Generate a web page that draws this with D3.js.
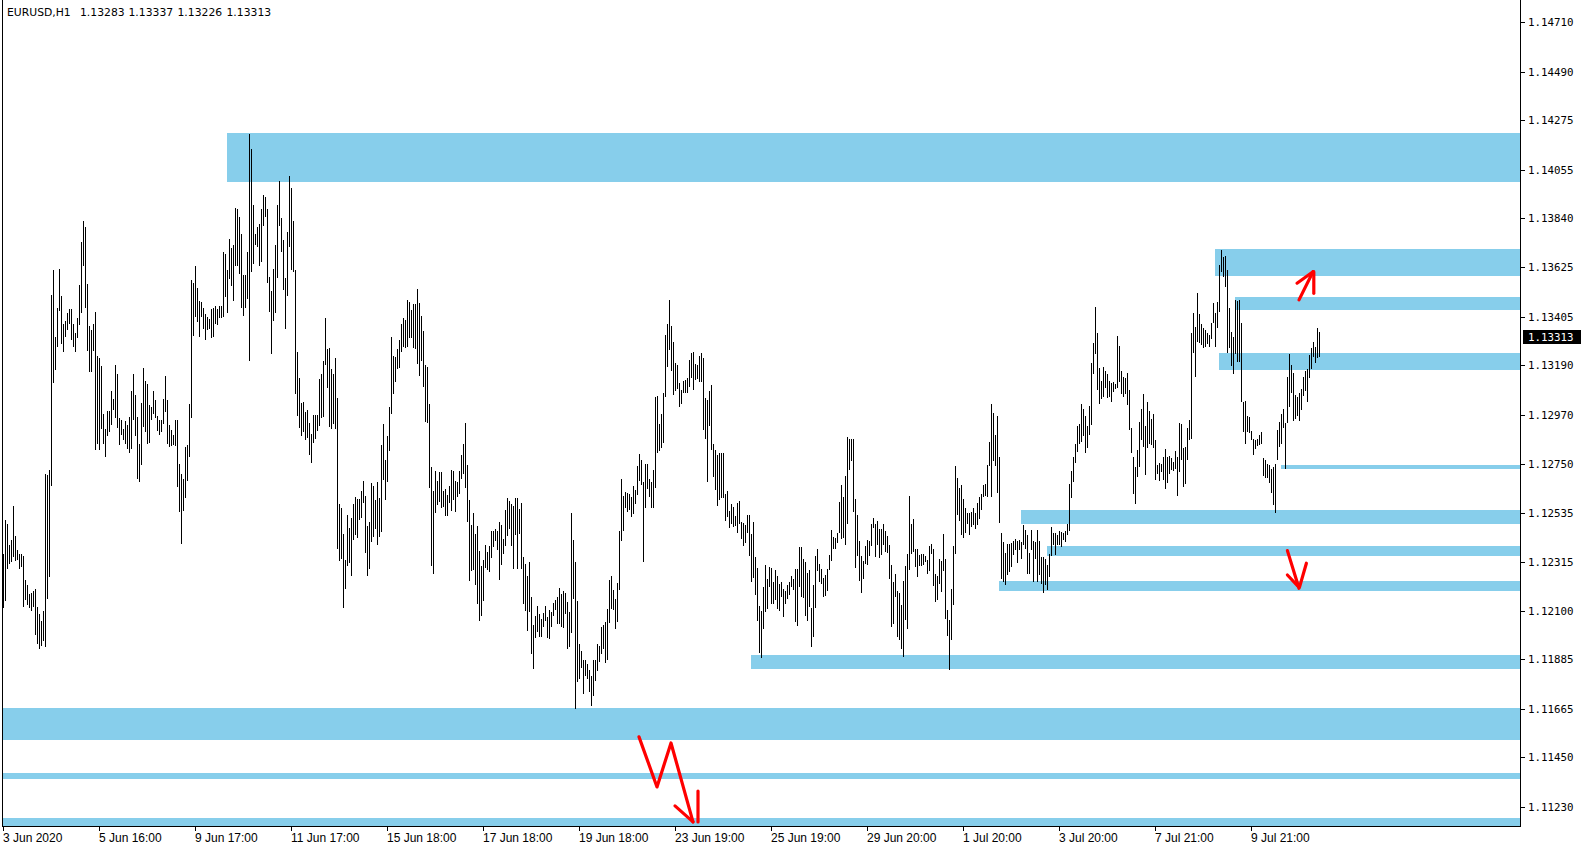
<!DOCTYPE html>
<html><head><meta charset="utf-8">
<script src="https://cdn.jsdelivr.net/npm/d3@7/dist/d3.min.js"></script>
<style>html,body{margin:0;padding:0;background:#fff;overflow:hidden}</style>
</head><body>
<svg id="c" width="1585" height="850"></svg>
<script>
// ---------------- DATA ----------------
const symbol = "EURUSD,H1";
const lastBarOHLC = [1.13283, 1.13337, 1.13226, 1.13313];

const high = [
1.12353,1.12504,1.12483,1.12390,1.12415,1.12563,1.12430,1.12371,1.12353,1.12353,
1.12341,1.12235,1.12213,1.12176,1.12179,1.12190,1.12198,1.12116,1.12084,1.12054,
1.12099,1.12708,1.12701,1.12726,1.13500,1.13611,1.13315,1.13445,1.13614,1.13497,
1.13371,1.13386,1.13423,1.13438,1.13437,1.13374,1.13330,1.13397,1.13545,1.13734,
1.13829,1.13801,1.13549,1.13363,1.13345,1.13370,1.13425,1.13229,1.13223,1.13185,
1.12972,1.12908,1.12987,1.12987,1.13074,1.13038,1.13192,1.13152,1.12953,1.12948,
1.12908,1.12942,1.12923,1.12960,1.13074,1.13152,1.13056,1.12960,1.12842,1.13022,
1.13175,1.13120,1.13104,1.13012,1.13004,1.13074,1.13034,1.12963,1.12945,1.12948,
1.13041,1.13141,1.13034,1.12923,1.12904,1.12879,1.12948,1.12948,1.12750,1.12708,
1.12686,1.12827,1.12834,1.13016,1.13567,1.13555,1.13629,1.13530,1.13474,1.13471,
1.13441,1.13416,1.13404,1.13394,1.13438,1.13441,1.13451,1.13437,1.13451,
1.13451,1.13693,1.13682,1.13611,1.13749,1.13710,1.13722,1.13885,1.13882,1.13847,
1.13771,1.13589,1.13589,1.13690,1.14215,1.14148,1.13900,1.13771,1.13802,1.13815,
1.13882,1.13944,1.13935,1.13882,1.13580,1.13518,1.13616,1.13722,1.13900,1.14006,
1.13844,1.13744,1.13574,1.13781,1.14029,1.13977,1.13829,1.13611,1.13249,1.13133,
1.13021,1.13027,1.12982,1.12990,1.12933,1.12883,1.12967,1.12967,1.12967,1.13127,
1.13149,1.13207,1.13400,1.13260,1.13266,1.13172,1.13152,1.13222,1.13044,1.12572,
1.12556,1.12441,1.12324,1.12523,1.12467,1.12512,1.12572,1.12605,1.12597,1.12594,
1.12630,1.12674,1.12609,1.12476,1.12494,1.12667,1.12654,1.12590,1.12671,1.12600,
1.12834,1.12927,1.12768,1.12874,1.13004,1.13315,1.13231,1.13226,1.13263,1.13300,
1.13371,1.13397,1.13389,1.13478,1.13471,1.13434,1.13459,1.13459,1.13527,1.13463,
1.13407,1.13340,1.13189,1.13182,1.13019,1.12738,1.12630,1.12719,1.12674,1.12716,
1.12716,1.12632,1.12642,1.12612,1.12652,1.12723,1.12720,1.12676,1.12672,1.12719,
1.12790,1.12842,1.12931,1.12746,1.12590,1.12479,1.12535,1.12439,1.12475,1.12365,
1.12299,1.12324,1.12390,1.12361,1.12386,1.12454,1.12454,1.12464,1.12454,1.12494,
1.12482,1.12420,1.12546,1.12602,1.12587,1.12575,1.12565,1.12602,1.12602,1.12550,
1.12578,1.12339,1.12306,1.12254,1.12316,1.12161,1.12035,1.12075,1.12120,1.12087,
1.12062,1.12090,1.12120,1.12072,1.12102,1.12097,1.12134,1.12149,1.12161,1.12202,
1.12176,1.12186,1.12179,1.12139,1.12097,1.12534,1.12413,1.12316,1.12142,1.11951,
1.11924,1.11883,1.11880,1.11865,1.11838,1.11813,1.11880,1.11880,1.11954,1.11942,
1.12028,1.12035,1.12050,1.12109,1.12235,1.12253,1.12194,1.12154,1.12223,1.12454,
1.12686,1.12608,1.12627,1.12624,1.12620,1.12605,1.12652,1.12635,1.12741,1.12797,
1.12771,1.12672,1.12749,1.12750,1.12686,1.12672,1.12726,1.13049,1.13052,1.12928,
1.12974,1.13067,1.13323,1.13372,1.13478,1.13365,1.13293,1.13199,1.13189,1.13109,
1.13079,1.13120,1.13124,1.13132,1.13211,1.13242,1.13249,1.13195,1.13189,1.13230,
1.13245,1.13222,1.13044,1.13034,1.13075,1.13102,1.12838,1.12813,1.12789,1.12801,
1.12798,1.12798,1.12620,1.12632,1.12542,1.12572,1.12560,1.12522,1.12578,1.12587,
1.12492,1.12488,1.12482,1.12527,1.12527,1.12442,1.12492,1.12339,1.12289,1.12123,
1.12101,1.12206,1.12304,1.12241,1.12296,1.12292,1.12226,1.12281,1.12256,1.12217,
1.12229,1.12196,1.12187,1.12214,1.12226,1.12254,1.12241,1.12286,1.12286,1.12384,
1.12384,1.12331,1.12316,1.12266,1.12281,1.12113,1.12214,1.12342,1.12372,1.12307,
1.12286,1.12244,1.12259,1.12286,1.12349,1.12457,1.12427,1.12424,1.12447,1.12582,
1.12658,1.12605,1.12698,1.12873,1.12861,1.12861,1.12861,1.12594,1.12527,1.12409,
1.12345,1.12319,1.12387,1.12412,1.12409,1.12485,1.12512,1.12485,1.12500,
1.12461,1.12465,1.12483,1.12455,1.12432,1.12391,1.12302,1.12228,1.12265,1.12187,
1.12179,1.12125,1.12231,1.12299,1.12350,1.12609,1.12487,1.12506,1.12376,1.12373,
1.12347,1.12350,1.12354,1.12342,1.12324,1.12387,1.12398,1.12376,1.12262,1.12255,
1.12332,1.12320,1.12440,1.12329,1.12102,1.12058,1.12199,1.12387,1.12742,1.12690,
1.12643,1.12657,1.12594,1.12558,1.12532,1.12532,1.12540,1.12555,1.12532,1.12576,1.12603,1.12616,
1.12657,1.12662,1.12746,1.12850,1.13017,1.12979,1.12879,1.12964,1.12783,1.12443,
1.12406,1.12357,1.12398,1.12398,1.12403,1.12409,1.12420,1.12409,
1.12413,1.12406,1.12480,1.12458,1.12438,1.12358,1.12458,1.12409,1.12406,1.12458,
1.12409,1.12339,1.12339,1.12332,1.12302,1.12350,1.12472,1.12447,1.12443,1.12438,
1.12453,1.12450,1.12447,1.12453,1.12484,1.12662,1.12720,1.12783,1.12842,1.12921,
1.12928,1.13017,1.12995,1.12964,1.12919,1.13008,1.13198,1.13286,1.13446,1.13331,
1.13175,
1.13120,1.13183,1.13163,1.13150,1.13119,1.13112,1.13116,1.13106,1.13319,1.13274,
1.13165,1.13138,1.13131,1.13153,1.13079,1.12909,1.12780,1.12736,1.12813,1.12938,
1.12993,1.13061,1.12919,1.13024,1.12987,1.12949,1.12972,1.12857,1.12746,1.12756,
1.12753,1.12783,1.12817,1.12783,1.12786,1.12779,1.12761,1.12810,1.12780,1.12934,
1.12928,1.12824,1.12827,1.12909,1.12946,1.13331,1.13419,1.13357,1.13511,1.13416,
1.13372,1.13353,1.13345,1.13331,1.13323,1.13378,1.13464,1.13419,1.13471,1.13634,
1.13701,1.13671,1.13674,1.13612,1.13442,1.13338,1.13316,1.13479,1.13474,1.13479,
1.13378,1.13027,1.13030,1.12964,1.12961,1.12898,1.12860,1.12857,1.12864,1.12879,
1.12894,1.12776,1.12771,1.12750,1.12746,1.12731,1.12739,1.12753,1.12901,1.12938,
1.12972,1.12993,1.12931,1.13138,1.13237,1.13190,1.13156,1.13057,1.13049,1.13067,
1.13082,1.13135,1.13165,1.13171,1.13234,1.13267,1.13291,1.13271,1.13353,1.13337
];

const low = [
1.12113,1.12143,1.12284,1.12306,1.12316,1.12338,1.12321,1.12324,1.12287,1.12294,
1.12119,1.12146,1.12128,1.12113,1.12099,1.12119,1.11991,1.11954,1.11931,1.11946,
1.11965,1.11939,1.12153,1.12250,1.12654,1.13111,1.13167,1.13271,1.13431,1.13283,
1.13249,1.13315,1.13345,1.13371,1.13300,1.13271,1.13249,1.13308,1.13367,1.13423,
1.13630,1.13441,1.13253,1.13160,1.13160,1.13253,1.12815,1.12839,1.12815,1.12908,
1.12842,1.12782,1.12874,1.12893,1.12923,1.12990,1.12953,1.12913,1.12834,1.12879,
1.12856,1.12842,1.12819,1.12800,1.12819,1.12948,1.12874,1.12686,1.12671,1.12745,
1.12916,1.12893,1.12839,1.12845,1.12945,1.12972,1.12957,1.12898,1.12879,1.12893,
1.12930,1.12982,1.12842,1.12827,1.12830,1.12834,1.12831,1.12649,1.12538,1.12398,
1.12543,1.12602,1.12676,1.12782,1.12956,1.13318,1.13404,1.13382,1.13315,1.13401,
1.13349,1.13300,1.13345,1.13348,1.13308,1.13315,1.13371,1.13367,1.13397,
1.13397,1.13404,1.13493,1.13422,1.13571,1.13542,1.13475,1.13630,1.13630,1.13592,
1.13444,1.13408,1.13444,1.13485,1.13209,1.13604,1.13639,1.13722,1.13715,1.13630,
1.13648,1.13808,1.13848,1.13556,1.13426,1.13240,1.13386,1.13422,1.13577,1.13808,
1.13693,1.13524,1.13351,1.13497,1.13715,1.13611,1.13604,1.13062,1.12964,1.12911,
1.12876,1.12893,1.12859,1.12867,1.12790,1.12756,1.12846,1.12864,1.12898,1.12920,
1.12957,1.12960,1.13192,1.13089,1.12916,1.12905,1.12930,1.12905,1.12375,1.12321,
1.12331,1.12112,1.12198,1.12298,1.12313,1.12254,1.12412,1.12438,1.12423,1.12501,
1.12512,1.12578,1.12356,1.12254,1.12287,1.12405,1.12427,1.12461,1.12393,1.12427,
1.12449,1.12679,1.12590,1.12671,1.12808,1.12973,1.13062,1.13115,1.13172,1.13178,
1.13249,1.13271,1.13266,1.13271,1.13308,1.13311,1.13266,1.13263,1.13194,1.13142,
1.13207,1.13093,1.12938,1.12933,1.12645,1.12301,1.12264,1.12535,1.12571,1.12583,
1.12556,1.12561,1.12521,1.12521,1.12578,1.12543,1.12593,1.12538,1.12605,1.12620,
1.12683,1.12706,1.12646,1.12494,1.12232,1.12276,1.12282,1.12213,1.12131,1.12054,
1.12077,1.12143,1.12291,1.12282,1.12272,1.12336,1.12383,1.12410,1.12371,1.12238,
1.12302,1.12350,1.12387,1.12430,1.12464,1.12387,1.12287,1.12435,1.12284,1.12442,
1.12287,1.12131,1.12099,1.12010,1.12094,1.11909,1.11843,1.11979,1.12006,1.11983,
1.11983,1.12028,1.12057,1.11980,1.11976,1.12028,1.12075,1.12102,1.12043,1.12040,
1.12028,1.12025,1.12087,1.11932,1.11939,1.12001,1.12154,1.11665,1.11784,1.11798,
1.11847,1.11732,1.11813,1.11798,1.11739,1.11676,1.11724,1.11791,1.11835,1.11872,
1.11909,1.11932,1.11868,1.11880,1.12046,1.12109,1.12102,1.12020,1.12050,1.12194,
1.12410,1.12454,1.12558,1.12538,1.12549,1.12516,1.12528,1.12572,1.12612,1.12676,
1.12657,1.12316,1.12556,1.12639,1.12605,1.12558,1.12556,1.12646,1.12800,1.12809,
1.12823,1.12846,1.13049,1.13181,1.13255,1.13162,1.13059,1.13075,1.13084,1.13004,
1.13019,1.13064,1.13068,1.13064,1.13094,1.13132,1.13079,1.13124,1.13129,1.13117,
1.13114,1.12903,1.12861,1.12673,1.12921,1.12813,1.12695,1.12638,1.12563,1.12590,
1.12602,1.12602,1.12500,1.12518,1.12469,1.12485,1.12473,1.12477,1.12444,1.12485,
1.12417,1.12387,1.12402,1.12447,1.12342,1.12229,1.12244,1.12168,1.12053,1.11913,
1.11890,1.12018,1.12093,1.12108,1.12206,1.12131,1.12131,1.12146,1.12108,1.12101,
1.12161,1.12071,1.12131,1.12153,1.12168,1.12206,1.12191,1.12051,1.12033,1.12206,
1.12161,1.12156,1.12075,1.12056,1.12116,1.11940,1.11985,1.12113,1.12277,1.12226,
1.12221,1.12161,1.12165,1.12187,1.12281,1.12319,1.12372,1.12372,1.12402,1.12447,
1.12417,1.12424,1.12394,1.12485,1.12725,1.12763,1.12537,1.12292,1.12342,1.12233,
1.12181,1.12241,1.12307,1.12304,1.12342,1.12387,1.12469,1.12337,1.12390,
1.12335,1.12347,1.12391,1.12361,1.12358,1.12239,1.12028,1.12043,1.12162,1.11984,
1.11972,1.11929,1.11895,1.12058,1.12021,1.12280,1.12350,1.12361,1.12295,1.12250,
1.12299,1.12299,1.12305,1.12317,1.12265,1.12276,1.12350,1.12210,1.12139,1.12147,
1.12221,1.12184,1.12276,1.12062,1.11988,1.11836,1.11969,1.12125,1.12354,1.12524,
1.12499,1.12435,1.12421,1.12443,1.12483,1.12438,1.12470,1.12480,1.12465,1.12480,1.12506,1.12546,
1.12606,1.12609,1.12606,1.12743,1.12606,1.12764,1.12743,1.12623,1.12490,1.12239,
1.12228,1.12216,1.12261,1.12273,1.12295,1.12347,1.12370,1.12314,
1.12369,1.12332,1.12391,1.12376,1.12265,1.12265,1.12369,1.12228,1.12332,1.12228,
1.12261,1.12221,1.12179,1.12213,1.12191,1.12250,1.12344,1.12394,1.12347,1.12391,
1.12394,1.12384,1.12413,1.12406,1.12435,1.12453,1.12601,1.12672,1.12754,1.12805,
1.12842,1.12850,1.12876,1.12802,1.12820,1.12879,1.12924,1.13149,1.13239,1.13079,
1.13016,
1.13038,1.13049,1.13086,1.13046,1.13049,1.13027,1.13072,1.13082,1.13086,1.13116,
1.13061,1.13049,1.13061,1.13012,1.12901,1.12801,1.12620,1.12573,1.12694,1.12739,
1.12857,1.12827,1.12702,1.12820,1.12842,1.12835,1.12820,1.12682,1.12709,1.12676,
1.12716,1.12682,1.12639,1.12668,1.12709,1.12724,1.12721,1.12728,1.12608,1.12716,
1.12768,1.12650,1.12662,1.12768,1.12857,1.12864,1.13242,1.13138,1.13294,1.13289,
1.13279,1.13264,1.13271,1.13282,1.13268,1.13305,1.13375,1.13268,1.13356,1.13427,
1.13604,1.13582,1.13538,1.13245,1.13264,1.13186,1.13150,1.13239,1.13205,1.13205,
1.13027,1.12891,1.12839,1.12894,1.12890,1.12857,1.12790,1.12817,1.12830,1.12835,
1.12839,1.12697,1.12687,1.12691,1.12665,1.12623,1.12568,1.12534,1.12768,1.12827,
1.12842,1.12909,1.12727,1.12931,1.13005,1.13064,1.12943,1.12949,1.12964,1.12943,
1.12990,1.13052,1.13076,1.13027,1.13131,1.13172,1.13227,1.13200,1.13220,1.13226
];

const timeLabels = ["3 Jun 2020","5 Jun 16:00","9 Jun 17:00","11 Jun 17:00","15 Jun 18:00",
  "17 Jun 18:00","19 Jun 18:00","23 Jun 19:00","25 Jun 19:00","29 Jun 20:00",
  "1 Jul 20:00","3 Jul 20:00","7 Jul 21:00","9 Jul 21:00"];
const barsPerTimeLabel = 48;

const priceTicks = [1.14710,1.14490,1.14275,1.14055,1.13840,1.13625,1.13405,1.13190,
  1.12970,1.12750,1.12535,1.12315,1.12100,1.11885,1.11665,1.11450,1.11230];

// zones (support / resistance rectangles): upper price, lower price, first bar
const zoneTop    = [1.14221,1.13705,1.13493,1.13245,1.12746,1.12546,1.12387,1.12232,1.11905,1.11669,1.11380,1.11180];
const zoneBottom = [1.14003,1.13587,1.13434,1.13168,1.12728,1.12484,1.12342,1.12188,1.11842,1.11529,1.11356,1.11140];
const zoneStart  = [112,606,616,608,639,509,522,498,374,-2,-2,-2];

// hand-drawn red arrows: [bar, price] points
const arrowPaths = [
  [[318,1.11541],[327,1.11319],[334,1.11514],[345,1.11164]],
  [[336,1.11235],[345,1.11164]],
  [[347.5,1.11301],[347.5,1.11164]],
  [[648,1.13479],[655,1.13604]],
  [[647,1.13553],[655,1.13604]],
  [[655.4,1.13604],[655.4,1.13508]],
  [[642.2,1.12367],[648,1.12200]],
  [[642.2,1.12259],[647.8,1.12206]],
  [[651.7,1.12311],[648.3,1.12206]]
];

// ---------------- DRAW ----------------
const W = 1585, H = 850;
const plotLeft = 2, plotRight = 1520, plotTop = 0, plotBottom = 826;
const svg = d3.select("#c");
svg.append("rect").attr("width", W).attr("height", H).attr("fill", "#fff");

const x = d3.scaleLinear().domain([0, high.length - 1]).range([3, 3 + 2 * (high.length - 1)]);
const y = d3.scaleLinear().domain([1.11230, 1.14710]).range([807.0, 22.3]);

svg.append("clipPath").attr("id", "plotclip").append("rect")
  .attr("x", plotLeft + 1).attr("y", plotTop).attr("width", plotRight - plotLeft - 1).attr("height", plotBottom - plotTop);

const plot = svg.append("g").attr("clip-path", "url(#plotclip)");

// zones
plot.append("g").selectAll("rect").data(zoneTop).join("rect")
  .attr("x", (d, i) => Math.round(x(zoneStart[i])))
  .attr("y", d => Math.round(y(d)))
  .attr("width", (d, i) => plotRight - Math.round(x(zoneStart[i])))
  .attr("height", (d, i) => Math.max(1, Math.round(y(zoneBottom[i])) - Math.round(y(d))))
  .attr("fill", "#87CEEB");

// bars
plot.append("g").attr("shape-rendering", "crispEdges").selectAll("line").data(high).join("line")
  .attr("x1", (d, i) => Math.round(x(i)) + 0.5)
  .attr("x2", (d, i) => Math.round(x(i)) + 0.5)
  .attr("y1", d => Math.round(y(d)))
  .attr("y2", (d, i) => Math.max(Math.round(y(low[i])), Math.round(y(d)) + 1))
  .attr("stroke", "#000").attr("stroke-width", 1);

// arrows
const line = d3.line().x(d => x(d[0])).y(d => y(d[1]));
plot.append("g").selectAll("path").data(arrowPaths).join("path")
  .attr("d", line).attr("fill", "none").attr("stroke", "#ff0000")
  .attr("stroke-width", 3.2).attr("stroke-linecap", "round").attr("stroke-linejoin", "round");

// frame
const frame = svg.append("g").attr("stroke", "#000").attr("stroke-width", 1).attr("shape-rendering", "crispEdges");
frame.append("line").attr("x1", plotLeft + 0.5).attr("x2", plotLeft + 0.5).attr("y1", plotTop).attr("y2", plotBottom + 1);
frame.append("line").attr("x1", plotRight + 0.5).attr("x2", plotRight + 0.5).attr("y1", plotTop).attr("y2", plotBottom + 1);
frame.append("line").attr("x1", plotLeft).attr("x2", plotRight + 1).attr("y1", plotBottom + 0.5).attr("y2", plotBottom + 0.5);

// price axis
const pa = svg.append("g");
pa.selectAll("line").data(priceTicks).join("line")
  .attr("x1", plotRight + 1).attr("x2", plotRight + 5)
  .attr("y1", d => Math.round(y(d)) + 0.5).attr("y2", d => Math.round(y(d)) + 0.5)
  .attr("stroke", "#000").attr("shape-rendering", "crispEdges");
pa.selectAll("text").data(priceTicks).join("text")
  .attr("x", 1528).attr("y", d => y(d) + 4)
  .attr("font-family", "DejaVu Sans Mono, monospace").attr("font-size", "10.8px")
  .attr("fill", "#000").text(d => d.toFixed(5));

// current price label
const close = lastBarOHLC[3];
pa.append("rect").attr("x", plotRight + 3).attr("y", Math.round(y(close)) - 7)
  .attr("width", 58).attr("height", 14).attr("fill", "#000");
pa.append("text").attr("x", 1528).attr("y", y(close) + 4)
  .attr("font-family", "DejaVu Sans Mono, monospace").attr("font-size", "10.8px")
  .attr("fill", "#fff").text(close.toFixed(5));

// time axis
const ta = svg.append("g");
const tIdx = timeLabels.map((t, i) => i * barsPerTimeLabel);
ta.selectAll("line").data(tIdx).join("line")
  .attr("x1", d => Math.round(x(d)) + 0.5).attr("x2", d => Math.round(x(d)) + 0.5)
  .attr("y1", plotBottom + 1).attr("y2", plotBottom + 5)
  .attr("stroke", "#000").attr("shape-rendering", "crispEdges");
ta.selectAll("text").data(timeLabels).join("text")
  .attr("x", (d, i) => Math.round(x(tIdx[i])))
  .attr("y", 842)
  .attr("font-family", "Liberation Sans, Arial, sans-serif").attr("font-size", "12px")
  .attr("fill", "#000").text(d => d);

// header
const hdr = svg.append("g").attr("font-family", "DejaVu Sans, sans-serif").attr("font-size", "10.8px").attr("fill", "#000");
hdr.append("text").attr("x", 7).attr("y", 16).text(symbol);
const hdrX = [80, 128.5, 177.5, 226.5];
hdr.selectAll("text.v").data(lastBarOHLC).join("text").attr("class", "v")
  .attr("x", (d, i) => hdrX[i]).attr("y", 16).text(d => d.toFixed(5));
</script>
</body></html>
